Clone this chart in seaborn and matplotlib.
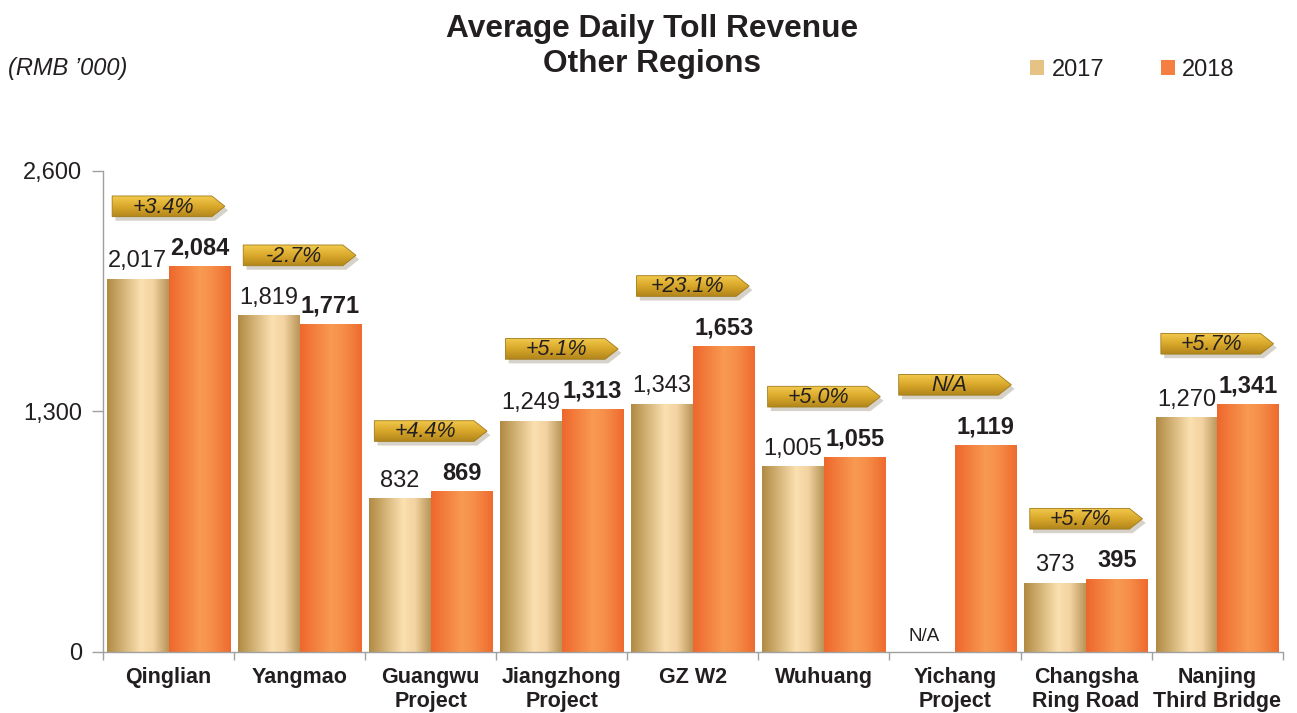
import numpy as np
import pandas as pd
import matplotlib
matplotlib.use("Agg")
import matplotlib.pyplot as plt
import seaborn as sns
from matplotlib.colors import LinearSegmentedColormap
from matplotlib.patches import Polygon, Patch, Rectangle
from matplotlib.ticker import FuncFormatter

# ---- data ----
regions = ["Qinglian", "Yangmao", "Guangwu\nProject", "Jiangzhong\nProject", "GZ W2",
           "Wuhuang", "Yichang\nProject", "Changsha\nRing Road", "Nanjing\nThird Bridge"]
rev_2017 = [2017, 1819, 832, 1249, 1343, 1005, np.nan, 373, 1270]
rev_2018 = [2084, 1771, 869, 1313, 1653, 1055, 1119, 395, 1341]
growth = ["+3.4%", "-2.7%", "+4.4%", "+5.1%", "+23.1%", "+5.0%", "N/A", "+5.7%", "+5.7%"]
years = ["2017", "2018"]

df = pd.DataFrame({
    "Region": regions * 2,
    "Year": ["2017"] * len(regions) + ["2018"] * len(regions),
    "Revenue": rev_2017 + rev_2018,
})

sns.set_theme(style="white")
plt.rcParams["font.family"] = ["Liberation Sans", "DejaVu Sans"]
narrow = ["Liberation Sans Narrow", "Liberation Sans", "DejaVu Sans"]
txt = "#231f20"

fig = plt.figure(figsize=(12.97, 7.13), dpi=100)
ax = fig.add_axes([0.0794, 0.0856, 0.9096, 0.6746])

sns.barplot(data=df, x="Region", y="Revenue", hue="Year", hue_order=years,
            order=regions, width=0.94, gap=0, palette=["#e8c88a", "#f5894a"],
            legend=False, ax=ax, errorbar=None)

# gradient fills for bars
cm17 = LinearSegmentedColormap.from_list("g17", [(0, "#b08a42"), (0.55, "#fbe0b0"),
                                                  (0.75, "#f2d2a0"), (1, "#b89458")])
cm18 = LinearSegmentedColormap.from_list("g18", [(0, "#ee672c"), (0.5, "#f89a52"),
                                                  (0.7, "#f68e48"), (1, "#ee6a2e")])
grad = np.linspace(0, 1, 256).reshape(1, -1)
n = len(regions)
centers = {}
for p in list(ax.patches):
    if not isinstance(p, Rectangle):
        continue
    h = p.get_height()
    x0, w = p.get_x(), p.get_width()
    xc = x0 + w / 2
    i = int(round(xc))
    is17 = xc < i
    centers[(i, is17)] = xc
    if not np.isfinite(h) or h <= 0:
        continue
    cmap = cm17 if is17 else cm18
    im = ax.imshow(grad, extent=[x0, x0 + w, 0, h], aspect="auto", cmap=cmap,
                   zorder=p.get_zorder(), interpolation="bicubic")
    im.set_clip_path(p)
    p.set_facecolor("none")
    p.set_edgecolor("none")

# value labels
for i in range(n):
    c17 = centers.get((i, True), i - 0.235)
    c18 = centers.get((i, False), i + 0.235)
    if np.isfinite(rev_2017[i]):
        ax.text(c17, rev_2017[i] + 35, f"{rev_2017[i]:,.0f}", ha="center", va="bottom",
                fontsize=17, color=txt)
    else:
        ax.text(c17, 40, "N/A", ha="center", va="bottom", fontsize=13.5, color=txt)
    ax.text(c18, rev_2018[i] + 35, f"{rev_2018[i]:,.0f}", ha="center", va="bottom",
            fontsize=17, fontweight="bold", color=txt)

# growth tags
cm_tag = LinearSegmentedColormap.from_list("tag", ["#b3861c", "#d9a82a", "#f2ca4e"])
vgrad = np.linspace(0, 1, 64).reshape(-1, 1)
for i in range(n):
    top = np.nanmax([rev_2017[i], rev_2018[i]])
    yc = top + 325
    hh = 56
    xl, xs, xt = i - 0.43, i + 0.33, i + 0.43
    pts = [(xl, yc - hh), (xs, yc - hh), (xt, yc), (xs, yc + hh), (xl, yc + hh)]
    shadow = Polygon([(x + 0.025, y - 22) for x, y in pts], closed=True,
                     facecolor="#7a6a50", alpha=0.3, edgecolor="none", zorder=4)
    ax.add_patch(shadow)
    tag = Polygon(pts, closed=True, facecolor="none", edgecolor="#a07a18", lw=0.6, zorder=5)
    ax.add_patch(tag)
    im = ax.imshow(vgrad, extent=[xl, xt, yc - hh, yc + hh], aspect="auto", cmap=cm_tag,
                   origin="lower", zorder=4.5)
    im.set_clip_path(tag)
    ax.text(i - 0.04, yc - 4, growth[i], ha="center", va="center", fontsize=15.5,
            fontstyle="italic", color=txt, zorder=6)

# axes styling
ax.set_xlim(-0.5, n - 0.5)
ax.set_ylim(0, 2600)
ax.set_yticks([0, 1300, 2600])
ax.yaxis.set_major_formatter(FuncFormatter(lambda v, _: f"{v:,.0f}"))
ax.set_xticks(range(n))
ax.set_xticklabels(regions, fontsize=15.5, fontweight="bold", color=txt, linespacing=1.2)
ax.set_xticks(np.arange(-0.5, n, 1), minor=True)
ax.tick_params(axis="x", which="major", length=0, pad=11)
ax.tick_params(axis="x", which="minor", length=6, width=1, color="#a0a0a0", direction="out",
               bottom=True)
ax.tick_params(axis="y", length=8, width=1, color="#a0a0a0", direction="out", left=True,
               labelsize=17, labelcolor=txt, pad=7)
for s in ["top", "right"]:
    ax.spines[s].set_visible(False)
for s in ["left", "bottom"]:
    ax.spines[s].set_color("#a0a0a0")
    ax.spines[s].set_linewidth(1)
ax.set_xlabel("")
ax.set_ylabel("")

# titles and legend
fig.text(0.503, 0.960, "Average Daily Toll Revenue", ha="center", va="center",
         fontsize=22.8, fontweight="bold", family=narrow, color=txt)
fig.text(0.503, 0.910, "Other Regions", ha="center", va="center",
         fontsize=22.8, fontweight="bold", family=narrow, color=txt)
fig.text(0.006, 0.904, "(RMB \u2019000)", ha="left", va="center", fontsize=17,
         fontstyle="italic", family=narrow, color=txt)

handles = [Patch(facecolor="#e6c285", edgecolor="none"), Patch(facecolor="#f47f40", edgecolor="none")]
fig.legend(handles, years, loc="center left", bbox_to_anchor=(0.778, 0.902), ncol=2,
           frameon=False, fontsize=17, handlelength=0.6, handleheight=0.6,
           handletextpad=0.3, columnspacing=2.4, labelcolor=txt)

fig.savefig("out.png", dpi=100)
